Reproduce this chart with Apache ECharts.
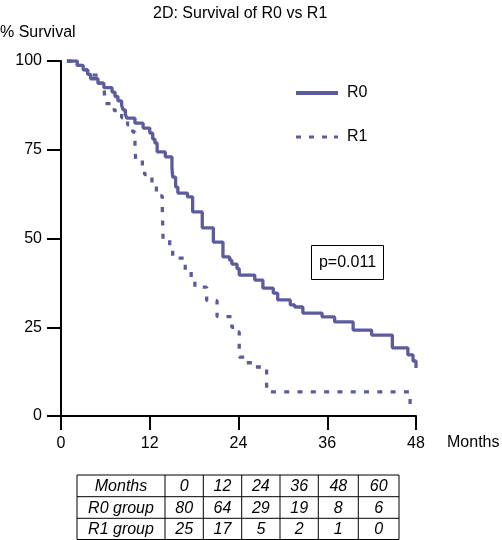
<!DOCTYPE html>
<html><head><meta charset="utf-8">
<script src="https://cdn.jsdelivr.net/npm/echarts@6/dist/echarts.min.js"></script>
<style>html,body{margin:0;padding:0;background:#fff}#c{width:502px;height:540px}</style>
</head><body><div id="c"></div>
<script>
// ---- data ----
const xTicks = [0, 12, 24, 36, 48];
const yTicks = [0, 25, 50, 75, 100];
const r0Months = [0.8,2.2,3.0,3.6,4.0,5.0,5.8,6.9,7.3,7.7,8.2,8.4,8.7,8.9,10.0,11.1,12.0,12.4,12.7,13.0,14.1,15.0,15.1,15.5,15.8,17.1,17.8,19.1,20.6,21.9,22.8,23.1,23.8,24.1,26.2,27.3,28.7,29.3,31.0,31.6,32.7,35.3,37.0,39.5,42.0,44.8,46.9,47.6,48.0];
const r0Survival = [100,98.75,97.5,96.25,95,93.75,92.5,91.25,90,88.75,87.5,86.25,85,83.9,82.5,81.1,79.7,78,76.9,74.4,73,70,67.3,64.5,62.8,61.7,57.5,53,49,44.8,43.9,42.8,41.5,39.7,38.3,36,34.6,32.7,31.3,30.7,29,27.9,26.5,24.2,22.8,19.2,17.2,15.5,13.5];
const r1Months = [0.8,2.2,3.0,3.6,5.0,5.8,6.0,7.2,8.2,9.0,9.7,10.0,10.1,11.0,11.3,12.3,12.9,13.7,13.8,14.7,15.1,16.8,17.6,18.1,19.7,21.1,23.1,23.8,24.1,24.9,26.2,27.8,47.2];
const r1Survival = [100,98.75,97.5,96,93.75,92.5,88,86,84,82,80,76,72,70,68,65,62,58,49.6,47.6,44.5,41,39,36.3,32.5,28,25,23.7,16.6,15,13.8,6.8,2.5];
const tableRowLabels = ['Months', 'R0 group', 'R1 group'];
const tableMonths = [0, 12, 24, 36, 48, 60];
const r0AtRisk = [80, 64, 29, 19, 8, 6];
const r1AtRisk = [25, 17, 5, 2, 1, 0];
const pValueText = 'p=0.011';

// ---- style ----
const FONT = '"Liberation Sans", Arial, Helvetica, sans-serif';
const LINE = '#5a5c9f';
const DASH = [5, 8.3];

const zip = (a, b) => a.map((v, i) => [v, b[i]]);

// table graphics
const colX = [77, 165, 203.3, 241.7, 280, 318.3, 358.3, 399];
const rowY = [475, 496.7, 518.3, 539.5];
const tableRows = [
  [tableRowLabels[0]].concat(tableMonths.map(String)),
  [tableRowLabels[1]].concat(r0AtRisk.map(String)),
  [tableRowLabels[2]].concat(r1AtRisk.map(String))
];
const tableEls = [];
tableEls.push({type:'rect', shape:{x:colX[0], y:rowY[0], width:colX[colX.length-1]-colX[0], height:rowY[rowY.length-1]-rowY[0]}, style:{fill:'none', stroke:'#000', lineWidth:1}});
for (let i = 1; i < rowY.length - 1; i++) {
  tableEls.push({type:'line', shape:{x1:colX[0], y1:rowY[i], x2:colX[colX.length-1], y2:rowY[i]}, style:{stroke:'#000', lineWidth:1}});
}
for (let j = 1; j < colX.length - 1; j++) {
  tableEls.push({type:'line', shape:{x1:colX[j], y1:rowY[0], x2:colX[j], y2:rowY[rowY.length-1]}, style:{stroke:'#000', lineWidth:1}});
}
tableRows.forEach((row, r) => {
  row.forEach((txt, c) => {
    tableEls.push({type:'text', x:(colX[c]+colX[c+1])/2, y:(rowY[r]+rowY[r+1])/2 + 1,
      style:{text:txt, fill:'#000', font:'italic 16px ' + FONT, align:'center', verticalAlign:'middle'}});
  });
});

const chart = echarts.init(document.getElementById('c'), null, {renderer:'canvas'});
chart.setOption({
  animation: false,
  backgroundColor: '#fff',
  title: {text:'2D: Survival of R0 vs R1', left:148, top:1, textStyle:{fontFamily:FONT, fontSize:16, fontWeight:'normal', color:'#000'}},
  grid: {left:61, right:86, top:61, bottom:124, containLabel:false},
  legend: {
    orient:'vertical', left:296, top:85, itemWidth:42, itemHeight:4, itemGap:28, padding:0,
    textStyle:{fontFamily:FONT, fontSize:16, color:'#000', padding:[0,0,0,4]},
    data:[
      {name:'R0', icon:'rect', itemStyle:{color:LINE}},
      {name:'R1', icon:'path://M0,0h5v3h-5z M13,0h5v3h-5z M26,0h5v3h-5z M38,0h4v3h-4z', itemStyle:{color:LINE}}
    ]
  },
  xAxis: {
    type:'value', min:0, max:48, interval:12,
    axisLine:{lineStyle:{color:'#000', width:2}},
    axisTick:{length:14, lineStyle:{color:'#000', width:2}},
    axisLabel:{fontFamily:FONT, fontSize:16, color:'#000', margin:20, customValues:xTicks},
    splitLine:{show:false}
  },
  yAxis: {
    type:'value', min:0, max:100, interval:25,
    axisLine:{show:true, lineStyle:{color:'#000', width:2}},
    axisTick:{show:true, length:14, lineStyle:{color:'#000', width:2}},
    axisLabel:{fontFamily:FONT, fontSize:16, color:'#000', margin:19},
    splitLine:{show:false}
  },
  graphic: [
    {type:'text', left:0, top:25, style:{text:'% Survival', fill:'#000', font:'16px ' + FONT}},
    {type:'text', left:447, top:435, style:{text:'Months', fill:'#000', font:'16px ' + FONT}},
    {type:'rect', shape:{x:311.5, y:245.5, width:72, height:34}, style:{fill:'#fff', stroke:'#000', lineWidth:1}},
    {type:'text', x:347.5, y:263, style:{text:pValueText, fill:'#000', font:'16px ' + FONT, align:'center', verticalAlign:'middle'}},
    {type:'group', children:tableEls}
  ],
  series: [
    {name:'R1', type:'line', step:'end', symbol:'none', data:zip(r1Months, r1Survival), z:2,
     lineStyle:{color:LINE, width:3.3, type:DASH}, itemStyle:{color:LINE}},
    {name:'R0', type:'line', step:'end', symbol:'none', data:zip(r0Months, r0Survival), z:3,
     lineStyle:{color:LINE, width:3.3, type:'solid'}, itemStyle:{color:LINE}}
  ]
});
</script>
</body></html>
